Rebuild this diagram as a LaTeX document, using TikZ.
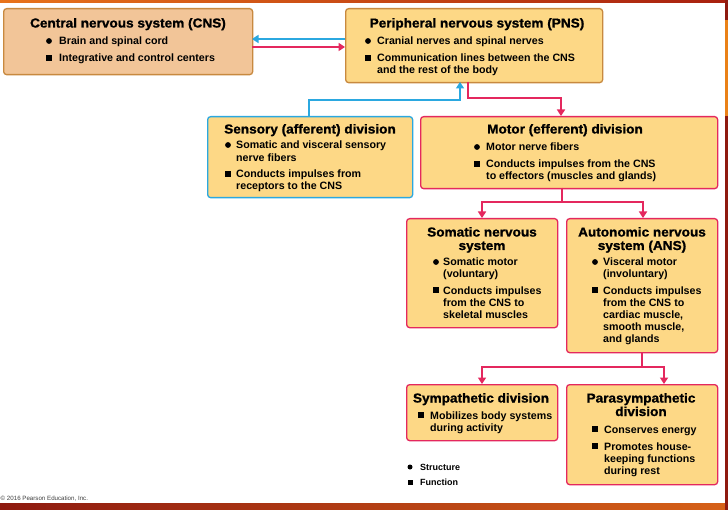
\documentclass[tikz,border=0pt]{standalone}
\usepackage{fontspec}
\setmainfont{Liberation Sans}
\newfontfamily\titlefont[FakeBold=1.2,FakeStretch=1.05]{Liberation Sans Bold}
\usetikzlibrary{arrows.meta}
\definecolor{ybox}{HTML}{FDD886}
\definecolor{cnsfill}{HTML}{F2C598}
\definecolor{brownedge}{HTML}{C8893F}
\definecolor{bluec}{HTML}{2BA8E0}
\definecolor{redc}{HTML}{E4285E}
\definecolor{edgeorange}{HTML}{E8731A}
\definecolor{edgered}{HTML}{A8200F}
\definecolor{darkred}{HTML}{8E1A10}
\tikzset{
  boxstyle/.style={rounded corners=3bp, line width=1.3bp, inner sep=0pt, anchor=north west, fill=ybox},
  titletxt/.style={inner sep=0pt, anchor=base, font=\titlefont\fontsize{13}{14}\selectfont},
  bodytxt/.style={inner sep=0pt, anchor=base west, font=\bfseries\fontsize{10.7}{12}\selectfont},
  legtxt/.style={inner sep=0pt, anchor=base west, font=\bfseries\fontsize{9}{11}\selectfont},
  dotb/.style={circle, fill=black, inner sep=0pt, minimum size=5.8bp},
  sqb/.style={rectangle, fill=black, inner sep=0pt, minimum size=5.8bp},
  conn/.style={line width=2.6bp, -{Triangle[length=6.5bp,width=8bp]}},
}
\newcommand\txtline[4]{\node[bodytxt] (#1) at (#2,#3) {#4};}
\begin{document}
\begin{tikzpicture}[x=1bp,y=-1bp]
\useasboundingbox (0,0) rectangle (728,510);
\fill[white] (0,0) rectangle (728,510);
% frame decorations
\shade[left color=edgeorange, right color=edgered] (0,0) rectangle (728,2.5);
\shade[left color=darkred, right color=edgeorange!80!darkred] (0,503.5) rectangle (728,510);
\fill[darkred] (725,0) rectangle (728,20);
\fill[edgeorange!90!yellow] (725,20) rectangle (728,116);
\fill[darkred] (725,116) rectangle (728,510);

% boxes
\node[boxstyle, fill=cnsfill, draw=brownedge, minimum width=249bp, minimum height=66bp] (cns) at (3,8) {};
\node[boxstyle, draw=brownedge, minimum width=257bp, minimum height=74bp] (pns) at (345,8) {};
\node[boxstyle, draw=bluec, minimum width=205bp, minimum height=81bp] (sens) at (207,116) {};
\node[boxstyle, draw=redc, minimum width=297bp, minimum height=72bp] (mot) at (420,116) {};
\node[boxstyle, draw=redc, minimum width=151bp, minimum height=109bp] (som) at (406,218) {};
\node[boxstyle, draw=redc, minimum width=151bp, minimum height=134bp] (ans) at (566,218) {};
\node[boxstyle, draw=redc, minimum width=151bp, minimum height=56bp] (sym) at (406,384) {};
\node[boxstyle, draw=redc, minimum width=151bp, minimum height=100bp] (para) at (566,384) {};

% connectors
\coordinate (pnsL1) at (345,39);
\coordinate (cnsR1) at (252,39);
\coordinate (cnsR2) at (252,47);
\coordinate (pnsL2) at (345,47);
\draw[conn, bluec] (pnsL1) -- (cnsR1);
\draw[conn, redc] (cnsR2) -- (pnsL2);
\coordinate (sensT) at (309,116);
\coordinate (pnsB1) at (460,82);
\draw[conn, bluec] (sensT) |- (360,100) -| (pnsB1);
\coordinate (pnsB2) at (468,82);
\coordinate (motT) at (561,116);
\draw[conn, redc] (pnsB2) |- (500,98) -| (motT);
\coordinate (motB) at (562,188);
\coordinate (somT) at (482,218);
\coordinate (ansT) at (643,218);
\draw[conn, redc] (motB) |- (520,202) -| (somT);
\draw[conn, redc] (motB) |- (600,202) -| (ansT);
\coordinate (ansB) at (642,352);
\coordinate (symT) at (482,384);
\coordinate (paraT) at (664,384);
\draw[conn, redc] (ansB) |- (520,367) -| (symT);
\draw[conn, redc] (ansB) |- (655,367) -| (paraT);

% CNS text
\node[titletxt] (cnsT) at (128,27.5) {Central nervous system (CNS)};
\node[dotb] (cnsD) at (49,41) {};
\txtline{cns1}{59}{44.5}{Brain and spinal cord}
\node[sqb] (cnsS) at (49,58) {};
\txtline{cns2}{59}{62}{Integrative and control centers}

% PNS text
\node[titletxt] (pnsT) at (477,27.5) {Peripheral nervous system (PNS)};
\node[dotb] (pnsD) at (368,41) {};
\txtline{pns1}{377}{44.5}{Cranial nerves and spinal nerves}
\node[sqb] (pnsS) at (368,58) {};
\txtline{pns2}{377}{62}{Communication lines between the CNS}
\txtline{pns3}{377}{74}{and the rest of the body}

% Sensory
\node[titletxt] (sensTt) at (310,133.5) {Sensory (afferent) division};
\node[dotb] (sensD) at (228,145) {};
\txtline{sens1}{236}{149}{Somatic and visceral sensory}
\txtline{sens2}{236}{161.5}{nerve fibers}
\node[sqb] (sensS) at (228,174) {};
\txtline{sens3}{236}{177.5}{Conducts impulses from}
\txtline{sens4}{236}{190}{receptors to the CNS}

% Motor
\node[titletxt] (motTt) at (565,133.5) {Motor (efferent) division};
\node[dotb] (motD) at (477,147) {};
\txtline{mot1}{486}{150.5}{Motor nerve fibers}
\node[sqb] (motS) at (477,164) {};
\txtline{mot2}{486}{167.5}{Conducts impulses from the CNS}
\txtline{mot3}{486}{180}{to effectors (muscles and glands)}

% Somatic
\node[titletxt] (somT1) at (482,236.5) {Somatic nervous};
\node[titletxt] (somT2) at (482,250) {system};
\node[dotb] (somD) at (436,262) {};
\txtline{som1}{443}{266}{Somatic motor}
\txtline{som2}{443}{278}{(voluntary)}
\node[sqb] (somS) at (436,290) {};
\txtline{som3}{443}{294}{Conducts impulses}
\txtline{som4}{443}{306}{from the CNS to}
\txtline{som5}{443}{318}{skeletal muscles}

% ANS
\node[titletxt] (ansT1) at (642,236.5) {Autonomic nervous};
\node[titletxt] (ansT2) at (642,250) {system (ANS)};
\node[dotb] (ansD) at (595,262) {};
\txtline{ans1}{603}{266}{Visceral motor}
\txtline{ans2}{603}{278}{(involuntary)}
\node[sqb] (ansS) at (595,290) {};
\txtline{ans3}{603}{294}{Conducts impulses}
\txtline{ans4}{603}{306}{from the CNS to}
\txtline{ans5}{603}{318}{cardiac muscle,}
\txtline{ans6}{603}{330}{smooth muscle,}
\txtline{ans7}{603}{342}{and glands}

% Sympathetic
\node[titletxt] (symT1) at (481,402.5) {Sympathetic division};
\node[sqb] (symS) at (421,415) {};
\txtline{sym1}{430}{419}{Mobilizes body systems}
\txtline{sym2}{430}{431}{during activity}

% Parasympathetic
\node[titletxt] (paraT1) at (641,402.5) {Parasympathetic};
\node[titletxt] (paraT2) at (641,416) {division};
\node[sqb] (paraS1) at (595,429) {};
\txtline{para1}{604}{433}{Conserves energy}
\node[sqb] (paraS2) at (595,446) {};
\txtline{para2}{604}{450}{Promotes house-}
\txtline{para3}{604}{462}{keeping functions}
\txtline{para4}{604}{474}{during rest}

% legend
\node[dotb, minimum size=5bp] (legD) at (410,467) {};
\node[legtxt] (legDt) at (420,470.5) {Structure};
\node[sqb, minimum size=5bp] (legS) at (410,482) {};
\node[legtxt] (legSt) at (420,485.5) {Function};

% copyright
\node[inner sep=0pt, anchor=base west, text=black!75, font=\fontsize{6.2}{7}\selectfont] (copy) at (0.5,500.5) {\char"00A9\ 2016 Pearson Education, Inc.};
\end{tikzpicture}
\end{document}
